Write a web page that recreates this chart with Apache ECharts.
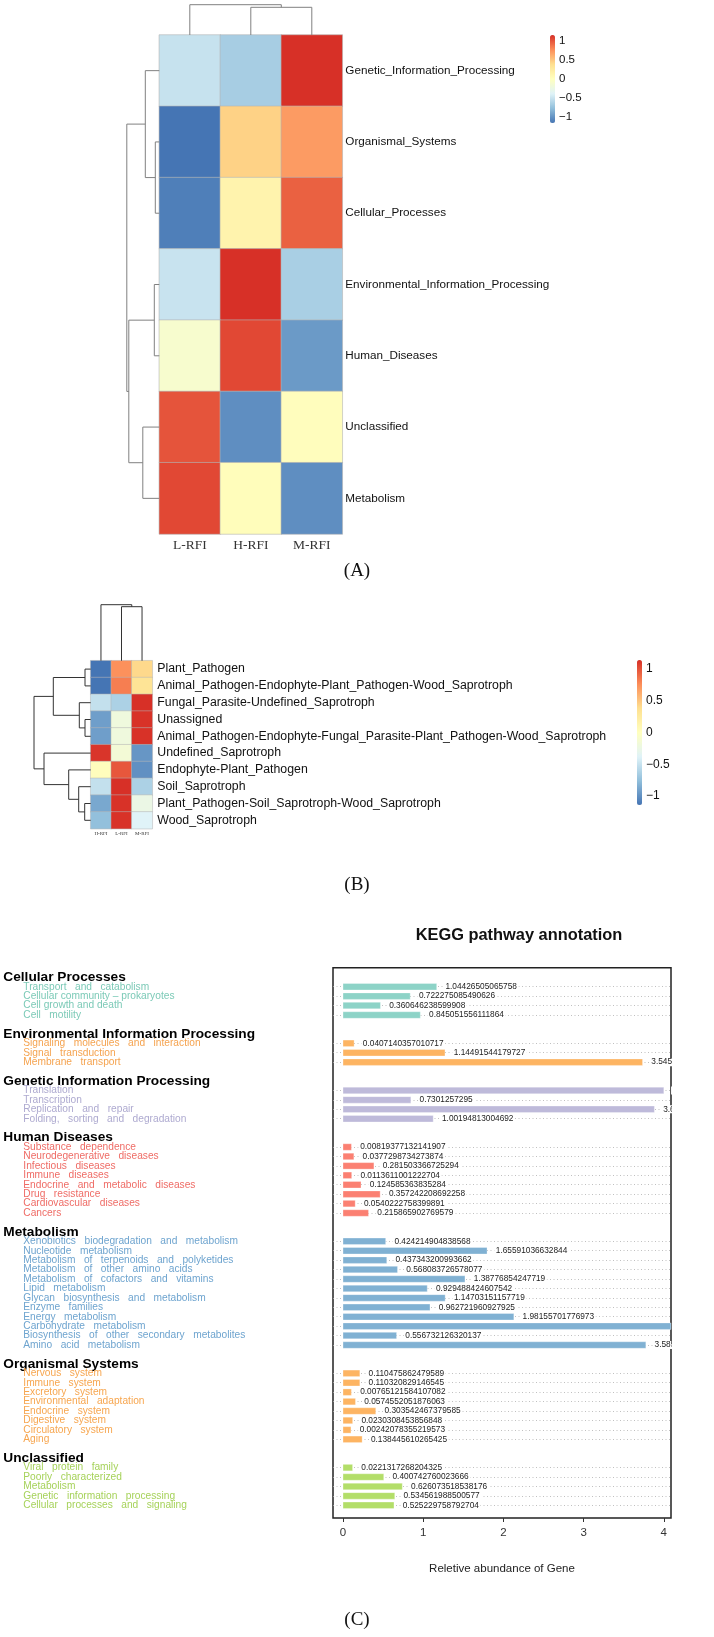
<!DOCTYPE html>
<html><head><meta charset="utf-8">
<script src="https://cdn.jsdelivr.net/npm/echarts@6/dist/echarts.min.js"></script>
<style>html,body{margin:0;padding:0;background:#fff}#c{width:714px;height:1637px}</style>
</head><body><div id="c"></div>
<script>
// ---------- Panel A ----------
const colsA = ['L-RFI','H-RFI','M-RFI'];
const rowsA = ['Genetic_Information_Processing','Organismal_Systems','Cellular_Processes','Environmental_Information_Processing','Human_Diseases','Unclassified','Metabolism'];
const zA = [
  [-0.51,-0.66, 1.15],
  [-1.15, 0.45, 0.70],
  [-1.10, 0.15, 0.95],
  [-0.50, 1.15,-0.65],
  [-0.10, 1.05,-0.96],
  [ 1.00,-1.02, 0.02],
  [ 1.05, 0.03,-1.02]
];
const rowTreeA = [[1,2,4],[3,4,5],[5,6,16.5],[0,'c0',14],['c1','c2',30.5],['c3','c4',32.5]];
const colTreeA = [[1,2,27.7],[0,'c0',30.3]];
const ticksA = [-1,-0.5,0,0.5,1];

// ---------- Panel B ----------
const colsB = ['H-RFI','L-RFI','M-RFI'];
const rowsB = ['Plant_Pathogen','Animal_Pathogen-Endophyte-Plant_Pathogen-Wood_Saprotroph','Fungal_Parasite-Undefined_Saprotroph','Unassigned','Animal_Pathogen-Endophyte-Fungal_Parasite-Plant_Pathogen-Wood_Saprotroph','Undefined_Saprotroph','Endophyte-Plant_Pathogen','Soil_Saprotroph','Plant_Pathogen-Soil_Saprotroph-Wood_Saprotroph','Wood_Saprotroph'];
const zB = [
  [-1.15, 0.74, 0.41],
  [-1.15, 0.82, 0.33],
  [-0.52,-0.63, 1.15],
  [-0.93,-0.20, 1.13],
  [-0.93,-0.20, 1.13],
  [ 1.12,-0.15,-0.97],
  [ 0.02, 0.98,-1.00],
  [-0.52, 1.15,-0.63],
  [-0.88, 1.13,-0.25],
  [-0.75, 1.13,-0.38]
];
const rowTreeB = [[0,1,5.7],[3,4,5.7],[2,'c1',11.4],['c0','c2',37.4],[8,9,6],[7,'c4',12],[6,'c5',22],[5,'c6',46.7],['c3','c7',56.7]];
const colTreeB = [[1,2,54],[0,'c0',56]];
const ticksB = [-1,-0.5,0,0.5,1];

// ---------- Panel C ----------
const groupNames = ['Cellular Processes','Environmental Information Processing','Genetic Information Processing','Human Diseases','Metabolism','Organismal Systems','Unclassified'];
const cellItems = ['Transport   and   catabolism','Cellular community \u2013 prokaryotes','Cell growth and death','Cell   motility'];
const cellVals = [1.04426505065758,0.722275085490626,0.360646238599908,0.845051556111864];
const envItems = ['Signaling   molecules   and   interaction','Signal   transduction','Membrane   transport'];
const envVals = [0.0407140357010717,1.14491544179727,3.54532037439];
const genItems = ['Translation','Transcription','Replication   and   repair','Folding,   sorting   and   degradation'];
const genVals = [3.80389781,0.7301257295,3.689336399,1.00194813004692];
const humItems = ['Substance   dependence','Neurodegenerative   diseases','Infectious   diseases','Immune   diseases','Endocrine   and   metabolic   diseases','Drug   resistance','Cardiovascular   diseases','Cancers'];
const humVals = [0.00819377132141907,0.0377298734273874,0.281503366725294,0.0113611001222704,0.124585363835284,0.357242208692258,0.0540222758399891,0.215865902769579];
const metItems = ['Xenobiotics   biodegradation   and   metabolism','Nucleotide   metabolism','Metabolism   of   terpenoids   and   polyketides','Metabolism   of   other   amino   acids','Metabolism   of   cofactors   and   vitamins','Lipid   metabolism','Glycan   biosynthesis   and   metabolism','Enzyme   families','Energy   metabolism','Carbohydrate   metabolism','Biosynthesis   of   other   secondary   metabolites','Amino   acid   metabolism'];
const metVals = [0.424214904838568,1.65591036632844,0.437343200993662,0.568083726578077,1.38776854247719,0.929488424607542,1.14703151157719,0.962721960927925,1.98155701776973,4.32,0.556732126320137,3.5853749762];
const orgItems = ['Nervous   system','Immune   system','Excretory   system','Environmental   adaptation','Endocrine   system','Digestive   system','Circulatory   system','Aging'];
const orgVals = [0.110475862479589,0.110320829146545,0.00765121584107082,0.0574552051876063,0.303542467379585,0.0230308453856848,0.00242078355219573,0.138445610265425];
const uncItems = ['Viral   protein   family','Poorly   characterized','Metabolism','Genetic   information   processing','Cellular   processes   and   signaling'];
const uncVals = [0.0221317268204325,0.400742760023666,0.626073518538176,0.534561988500577,0.525229758792704];
const xTicksC = [0,1,2,3,4];

// ---------- styles ----------
const palette = ['#4575B4','#91BFDB','#E0F3F8','#FFFFBF','#FEE090','#FC8D59','#D73027'];
const barColors = ['#8DD3C7','#FDB462','#BEBADA','#FB8072','#80B1D3','#FDB462','#B3DE69'];
const textColors = ['#7ccab7','#f5a34f','#aeaad0','#ef6c66','#6ea4cf','#f7a64f','#a6d25a'];

const groupItems = [cellItems,envItems,genItems,humItems,metItems,orgItems,uncItems];
const groupVals = [cellVals,envVals,genVals,humVals,metVals,orgVals,uncVals];

const slotKeys=[], slotText={}, slotGroup={}, slotIsHead={}, barData=[], isBar=[];
groupNames.forEach((g,gi)=>{
  if(gi>0){ const k='gap'+gi; slotKeys.push(k); slotText[k]=''; barData.push(null); isBar.push(false); }
  const hk='head'+gi; slotKeys.push(hk); slotText[hk]=g; slotIsHead[hk]=true; slotGroup[hk]=gi; barData.push(null); isBar.push(false);
  groupItems[gi].forEach((it,ii)=>{
    const k='it'+gi+'_'+ii; slotKeys.push(k); slotText[k]=it; slotGroup[k]=gi;
    barData.push({value:groupVals[gi][ii], itemStyle:{color:barColors[gi]}}); isBar.push(true);
  });
});
const nSlots = slotKeys.length;
const guideKeys = []; for(let j=0;j<2*nSlots+1;j++) guideKeys.push('g'+j);

function buildLinks(merges){
  const nodes=[], links=[];
  const get = k => typeof k==='number' ? {p:k,h:0} : nodes[+k.slice(1)];
  merges.forEach(([a,b,h])=>{const A=get(a),B=get(b); links.push([A.p,A.h,B.p,B.h,h]); nodes.push({p:(A.p+B.p)/2,h:h});});
  return links;
}
function dendro(orient, color){
  return function(params, api){
    const p1=api.value(0),h1=api.value(1),p2=api.value(2),h2=api.value(3),h=api.value(4);
    const raw = orient==='row' ? [[h1,p1],[h,p1],[h,p2],[h2,p2]] : [[p1,h1],[p1,h],[p2,h],[p2,h2]];
    return {type:'polyline', shape:{points:raw.map(d=>api.coord(d))}, style:{stroke:color, lineWidth:1, fill:null}};
  };
}
const hmData = z => { const d=[]; z.forEach((r,i)=>r.forEach((v,j)=>d.push([j,i,v]))); return d; };
const minusFmt = v => String(v).replace('-','\u2212');

// geometry
const A = {left:159.3, top:35, w:183, h:499};
const B = {left:90.7, top:660.7, w:61.6, h:168};
const slotH = 9.429;
const C = {left:333, right:671, frameTop:967.7, frameBottom:1518, barTop:977.3-slotH/2};
const pxPerUnitBar = 82.3, barZeroX = 351, barStart = -0.1;
const pxPerUnitAx = 80.2, axZeroX = 343;

const option = {
  backgroundColor:'#fff',
  animation:false,
  textStyle:{fontFamily:'Liberation Sans, Arial, sans-serif'},
  grid:[
    {left:A.left, top:A.top, width:A.w, height:A.h},
    {left:125, top:A.top, width:A.left-125, height:A.h},
    {left:A.left, top:0, width:A.w, height:A.top},
    {left:550, top:35, width:5, height:88},
    {left:B.left, top:B.top, width:B.w, height:B.h},
    {left:30, top:B.top, width:B.left-30, height:B.h},
    {left:B.left, top:600, width:B.w, height:B.top-600},
    {left:637, top:660, width:5, height:145},
    {left:C.left, top:C.barTop, width:C.right-C.left, height:slotH*nSlots},
    {left:C.left, top:C.frameTop, width:C.right-C.left, height:C.frameBottom-C.frameTop, show:true, borderColor:'#222', borderWidth:1.5}
  ],
  xAxis:[
    {gridIndex:0, type:'category', data:colsA, axisLine:{show:false}, axisTick:{show:false}, splitLine:{show:false},
      axisLabel:{fontFamily:'Liberation Serif, serif', fontSize:13.5, color:'#333', margin:4}},
    {gridIndex:1, type:'value', min:0, max:A.left-125, inverse:true, show:false},
    {gridIndex:2, type:'value', min:-0.5, max:2.5, show:false},
    {gridIndex:3, type:'value', show:false},
    {gridIndex:4, type:'category', data:colsB, axisLine:{show:false}, axisTick:{show:false}, splitLine:{show:false},
      axisLabel:{fontFamily:'Liberation Serif, serif', fontSize:5, color:'#333', margin:2}},
    {gridIndex:5, type:'value', min:0, max:B.left-30, inverse:true, show:false},
    {gridIndex:6, type:'value', min:-0.5, max:2.5, show:false},
    {gridIndex:7, type:'value', show:false},
    {gridIndex:8, type:'value', startValue:barStart, min:(C.left-barZeroX)/pxPerUnitBar, max:(C.right-barZeroX)/pxPerUnitBar, show:false},
    {gridIndex:9, type:'value', min:(C.left-axZeroX)/pxPerUnitAx, max:(C.right-axZeroX)/pxPerUnitAx,
      axisLine:{show:false}, splitLine:{show:false},
      axisTick:{show:true, customValues:xTicksC, length:4, lineStyle:{color:'#333'}},
      axisLabel:{customValues:xTicksC, fontSize:11.5, color:'#333', margin:9},
      name:'Reletive abundance of Gene', nameLocation:'middle', nameGap:45, nameTextStyle:{fontSize:11.5, color:'#222'}}
  ],
  yAxis:[
    {gridIndex:0, type:'category', data:rowsA, inverse:true, position:'right', axisLine:{show:false}, axisTick:{show:false}, splitLine:{show:false},
      axisLabel:{fontSize:11.7, color:'#111', margin:3}},
    {gridIndex:1, type:'value', min:-0.5, max:rowsA.length-0.5, inverse:true, show:false},
    {gridIndex:2, type:'value', min:0, max:A.top, show:false},
    {gridIndex:3, type:'value', min:-1.15, max:1.15, position:'right', axisLine:{show:false}, axisTick:{show:false}, splitLine:{show:false},
      axisLabel:{customValues:ticksA, formatter:minusFmt, fontSize:11.5, color:'#111', margin:4}},
    {gridIndex:4, type:'category', data:rowsB, inverse:true, position:'right', axisLine:{show:false}, axisTick:{show:false}, splitLine:{show:false},
      axisLabel:{fontSize:12.3, color:'#111', margin:5}},
    {gridIndex:5, type:'value', min:-0.5, max:rowsB.length-0.5, inverse:true, show:false},
    {gridIndex:6, type:'value', min:0, max:B.top-600, show:false},
    {gridIndex:7, type:'value', min:-1.14, max:1.14, position:'right', axisLine:{show:false}, axisTick:{show:false}, splitLine:{show:false},
      axisLabel:{customValues:ticksB, formatter:minusFmt, fontSize:12, color:'#111', margin:4}},
    {gridIndex:8, type:'category', data:slotKeys, inverse:true, axisLine:{show:false}, axisTick:{show:false}, splitLine:{show:false},
      axisLabel:{interval:0, align:'left', margin:C.left-3.3,
        formatter:k=>{ if(!slotText[k]) return ''; return slotIsHead[k] ? '{h|'+slotText[k]+'}' : '{t'+slotGroup[k]+'|'+slotText[k]+'}'; },
        rich:Object.assign({h:{fontSize:13.7, fontWeight:'bold', color:'#000', fontFamily:'Liberation Sans, Arial'}},
          Object.fromEntries(textColors.map((c,i)=>['t'+i,{fontSize:10.2, color:c, padding:[0,0,0,20], fontFamily:'Liberation Sans, Arial'}])))}},
    {gridIndex:8, type:'category', data:guideKeys, boundaryGap:false, inverse:true, axisLine:{show:false}, axisTick:{show:false}, axisLabel:{show:false},
      splitLine:{show:true, interval:(idx)=> idx%2===1 && isBar[(idx-1)/2], lineStyle:{color:'#b0b0b0', width:0.8, type:[1,2.5]}}},
    {gridIndex:9, type:'value', show:false}
  ],
  visualMap:[
    {type:'continuous', seriesIndex:0, min:-1.15, max:1.15, inRange:{color:palette}, orient:'vertical', left:550, top:35, itemWidth:5, itemHeight:88, calculable:false, padding:0, text:null},
    {type:'continuous', seriesIndex:3, min:-1.14, max:1.14, inRange:{color:palette}, orient:'vertical', left:637, top:660, itemWidth:5, itemHeight:145, calculable:false, padding:0, text:null}
  ],
  series:[
    {type:'heatmap', xAxisIndex:0, yAxisIndex:0, data:hmData(zA), itemStyle:{borderColor:'#b4b4b4', borderWidth:0.6}},
    {type:'custom', xAxisIndex:1, yAxisIndex:1, data:buildLinks(rowTreeA), renderItem:dendro('row','#808080'), clip:false},
    {type:'custom', xAxisIndex:2, yAxisIndex:2, data:buildLinks(colTreeA), renderItem:dendro('col','#808080'), clip:false},
    {type:'heatmap', xAxisIndex:4, yAxisIndex:4, data:hmData(zB), itemStyle:{borderColor:'#b4b4b4', borderWidth:0.5}},
    {type:'custom', xAxisIndex:5, yAxisIndex:5, data:buildLinks(rowTreeB), renderItem:dendro('row','#333'), clip:false},
    {type:'custom', xAxisIndex:6, yAxisIndex:6, data:buildLinks(colTreeB), renderItem:dendro('col','#333'), clip:false},
    {type:'bar', xAxisIndex:8, yAxisIndex:8, data:barData, barWidth:7, clip:true,
      itemStyle:{borderColor:'rgba(255,255,255,0.6)', borderWidth:0.5},
      label:{show:true, position:'right', distance:7, fontSize:8.3, color:'#222', backgroundColor:'#fff', padding:[0,1.5],
        formatter:p=>String(p.value)}}
  ],
  graphic:[
    {type:'rect', left:672, top:C.frameTop-2, shape:{width:42, height:C.frameBottom-C.frameTop+4}, style:{fill:'#fff'}, z:100},
    {type:'text', x:357, y:571, style:{text:'(A)', font:'19px "Liberation Serif", serif', fill:'#111', align:'center', verticalAlign:'middle'}, z:100},
    {type:'text', x:357, y:885, style:{text:'(B)', font:'19px "Liberation Serif", serif', fill:'#111', align:'center', verticalAlign:'middle'}, z:100},
    {type:'text', x:357, y:1620, style:{text:'(C)', font:'19px "Liberation Serif", serif', fill:'#111', align:'center', verticalAlign:'middle'}, z:100},
    {type:'text', x:519, y:935, style:{text:'KEGG pathway annotation', font:'bold 16.4px "Liberation Sans", Arial', fill:'#111', align:'center', verticalAlign:'middle'}, z:100}
  ]
};
const chart = echarts.init(document.getElementById('c'), null, {renderer:'canvas', width:714, height:1637});
chart.setOption(option);
</script></body></html>
